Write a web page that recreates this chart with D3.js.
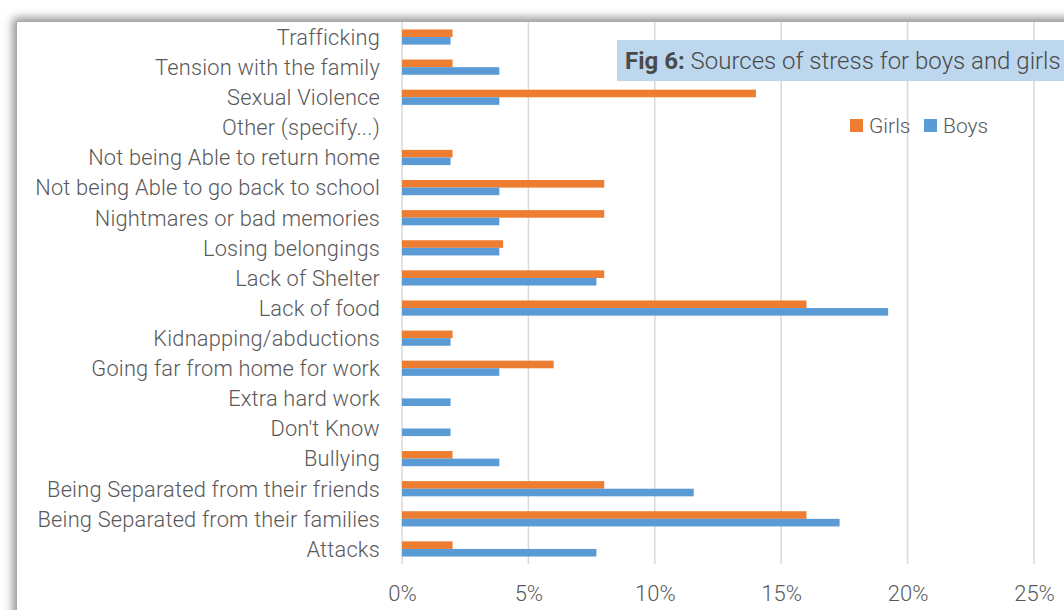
<!DOCTYPE html>
<html>
<head>
<meta charset="utf-8">
<script src="https://cdn.jsdelivr.net/npm/d3@7"></script>
<style>
  html, body { margin: 0; padding: 0; background: #fff; overflow: hidden; }
  #frame {
    position: absolute; left: 16px; top: 21px; width: 1200px; height: 700px;
    background: #fff; box-shadow: 0 0 9px 3px rgba(0,0,0,0.45);
    border-left: 1px solid #aaa; border-top: 1px solid #aaa;
  }
  #chart { position: absolute; left: 0; top: 0; }
  text { font-family: Roboto, "Open Sans", sans-serif; }
</style>
</head>
<body>
<div id="frame"></div>
<div id="chart"></div>
<script>
//Datos (de arriba a abajo)
const categorias = [
  'Trafficking',
  'Tension with the family',
  'Sexual Violence',
  'Other (specify...)',
  'Not being Able to return home',
  'Not being Able to go back to school',
  'Nightmares or bad memories',
  'Losing belongings',
  'Lack of Shelter',
  'Lack of food',
  'Kidnapping/abductions',
  'Going far from home for work',
  'Extra hard work',
  "Don't Know",
  'Bullying',
  'Being Separated from their friends',
  'Being Separated from their families',
  'Attacks'
];
const girls = [2, 2, 14, 0, 2, 8, 8, 4, 8, 16, 2, 6, 0, 0, 2, 8, 16, 2];
const boys = [1.92, 3.85, 3.85, 0, 1.92, 3.85, 3.85, 3.85, 7.69, 19.23, 1.92, 3.85, 1.92, 1.92, 3.85, 11.54, 17.31, 7.69];
const ticksX = [0, 5, 10, 15, 20, 25];
const series = ['Girls', 'Boys'];

const COLOR_GIRLS = '#ED7D31',
  COLOR_BOYS = '#5B9BD5',
  COLOR_TEXT = '#595959',
  COLOR_GRID = '#D9D9D9';

let width = 1064, height = 610;

let svg = d3.select('#chart')
  .append('svg')
    .attr('width', width)
    .attr('height', height);

let data = categorias.map(function(c, i) { return { cat: c, Girls: girls[i], Boys: boys[i] }; });

let x = d3.scaleLinear()
  .domain([0, 25])
  .range([402, 1034]);

let y = d3.scaleBand()
  .domain(categorias)
  .range([22, 564]);

let ySub = d3.scaleBand()
  .domain(series)
  .range([y.bandwidth() / 2 - 7.6, y.bandwidth() / 2 + 7.6]);

let color = d3.scaleOrdinal()
  .domain(series)
  .range([COLOR_GIRLS, COLOR_BOYS]);

//Rejilla
svg.append('g')
  .selectAll('line')
  .data(ticksX)
  .enter()
  .append('line')
    .attr('x1', function(d) { return x(d); })
    .attr('x2', function(d) { return x(d); })
    .attr('y1', 22)
    .attr('y2', 564)
    .attr('stroke', COLOR_GRID)
    .attr('stroke-width', 1.5);

//Eje X
let xAxis = function(g) {
  g.call(d3.axisBottom(x).tickValues(ticksX).tickFormat(function(d) { return d + '%'; }).tickSize(0));
  g.call(function(g) { g.select('.domain').remove(); });
  g.selectAll('text')
    .attr('fill', COLOR_TEXT)
    .attr('font-size', '22px')
    .attr('font-weight', 300)
    .attr('dy', 0)
    .attr('y', 0);
};

svg.append('g')
  .attr('transform', 'translate(0,601)')
  .call(xAxis);

//Eje Y
let yAxis = function(g) {
  g.call(d3.axisLeft(y).tickSize(0).tickPadding(0));
  g.call(function(g) { g.select('.domain').remove(); });
  g.selectAll('text')
    .attr('fill', COLOR_TEXT)
    .attr('font-size', '21.8px')
    .attr('font-weight', 300)
    .attr('letter-spacing', '0.2px')
    .attr('dy', '0.36em');
};

svg.append('g')
  .attr('transform', 'translate(380,0)')
  .call(yAxis);

//Barras
svg.append('g')
  .selectAll('g')
  .data(data)
  .enter()
  .append('g')
    .attr('transform', function(d) { return 'translate(0,' + y(d.cat) + ')'; })
  .selectAll('rect')
  .data(function(d) { return series.map(function(s) { return { key: s, value: d[s] }; }); })
  .enter()
  .append('rect')
    .attr('x', x(0))
    .attr('y', function(d) { return ySub(d.key); })
    .attr('width', function(d) { return x(d.value) - x(0); })
    .attr('height', ySub.bandwidth())
    .attr('fill', function(d) { return color(d.key); });

//Titulo
svg.append('rect')
  .attr('x', 617)
  .attr('y', 40)
  .attr('width', 460)
  .attr('height', 41)
  .attr('fill', '#BDD7EE');

let title = svg.append('text')
  .attr('x', 625)
  .attr('y', 69)
  .attr('font-size', '24px')
  .attr('fill', '#4a4a4a');
title.append('tspan').attr('font-weight', 700).text('Fig 6:');
title.append('tspan').attr('font-weight', 300).text(' Sources of stress for boys and girls');

//Leyenda
let legendX = [850, 924];
let legend = svg.append('g')
  .selectAll('g')
  .data(series)
  .enter()
  .append('g')
    .attr('transform', function(d, i) { return 'translate(' + legendX[i] + ',119)'; });

legend.append('rect')
  .attr('width', 13)
  .attr('height', 13)
  .attr('fill', function(d) { return color(d); });

legend.append('text')
  .attr('x', 19)
  .attr('y', 14)
  .attr('font-size', '21px')
  .attr('font-weight', 300)
  .attr('fill', COLOR_TEXT)
  .text(function(d) { return d; });
</script>
</body>
</html>
